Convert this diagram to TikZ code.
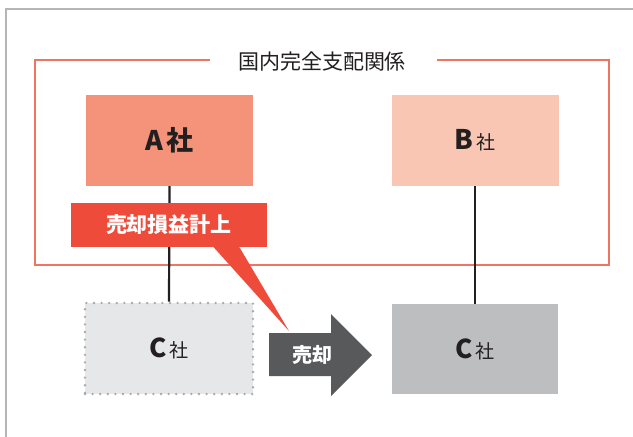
\documentclass[tikz,border=0pt]{standalone}
\usepackage{fontspec}
\setmainfont{Noto Sans CJK JP}
\definecolor{panelgray}{HTML}{B5B5B5}
\definecolor{framered}{HTML}{EE7463}
\definecolor{afill}{HTML}{F5937A}
\definecolor{bfill}{HTML}{F9C6B4}
\definecolor{cfill}{HTML}{E6E7E8}
\definecolor{cdot}{HTML}{A7A9AC}
\definecolor{c2fill}{HTML}{BCBEC0}
\definecolor{arrowgray}{HTML}{58595B}
\definecolor{calloutred}{HTML}{EE4B3B}
\definecolor{ink}{HTML}{231F20}
\tikzset{
  company/.style={minimum width=167pt, minimum height=91pt, inner sep=0pt, text=ink},
  link/.style={draw=ink, line width=2.2pt},
}
\newcommand{\sha}{{\fontsize{19}{19}\selectfont 社}}
\begin{document}
\begin{tikzpicture}[x=1pt,y=-1pt]
\useasboundingbox (0,0) rectangle (633,437);
\fill[white] (0,0) rectangle (633,437);
% panel border
\draw[panelgray, line width=1.2pt] (6,437) -- (6,9) -- (633,9);
% red frame
\node[text=ink, font=\fontsize{21}{21}\selectfont, inner sep=0pt] (title) at (322,62) {国内完全支配関係};
\draw[framered, line width=1.6pt] (210,60) -- (35,60) -- (35,265) -- (609,265) -- (609,60) -- (437,60);
% companies
\node[company, fill=afill] (A) at (169.5,140.5) {\fontsize{27}{27}\selectfont\bfseries A\hspace{3pt}社};
\node[company, fill=bfill] (B) at (475,140.5) {\fontsize{27}{27}\selectfont\bfseries B\hspace{3pt}\mdseries\sha};
\node[company, fill=cfill, draw=cdot, line width=2.6pt, dash pattern=on 0pt off 7.6pt, line cap=round, minimum width=168pt] (C1) at (169,348.5) {\fontsize{26}{26}\selectfont\bfseries C\hspace{3pt}\mdseries\sha};
\node[company, fill=c2fill, minimum width=166pt, minimum height=90pt] (C2) at (475,349) {\fontsize{26}{26}\selectfont\bfseries C\hspace{3pt}\mdseries\sha};
% links
\draw[link] (A.south) -- (C1.north);
\draw[link] (B.south) -- (C2.north);
% callout
\node[fill=calloutred, text=white, minimum width=196pt, minimum height=44pt, inner sep=0pt, font=\fontsize{21}{21}\selectfont\bfseries] (call) at (169,225) {売却損益計上};
\coordinate (tip) at (289,331);
\fill[calloutred] (213,246.5) -- (tip) -- (239,246.5) -- cycle;
% sale arrow
\fill[arrowgray] (269,333) -- (331,333) -- (331,314) -- (372,355) -- (331,396) -- (331,376) -- (269,376) -- cycle;
\node[text=white, font=\fontsize{20}{20}\selectfont\bfseries, inner sep=0pt] (sale) at (312,355) {売却};
\end{tikzpicture}
\end{document}
